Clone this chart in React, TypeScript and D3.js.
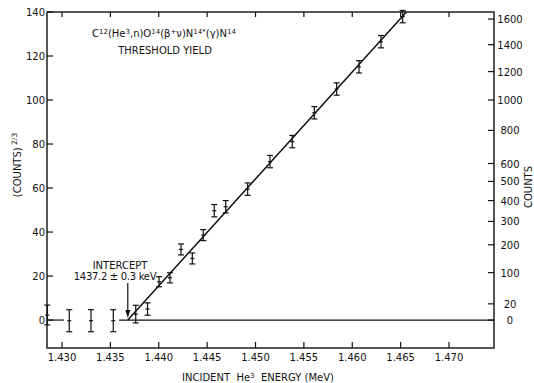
import * as d3 from 'd3';
import { useRef, useEffect } from 'react';

// incident He3 energy (MeV), yield in (counts)^(2/3) with its error
const energy = [1.42848, 1.43075, 1.433, 1.4353, 1.43762, 1.43884, 1.44003, 1.44116, 1.4423, 1.44347, 1.4446, 1.44574, 1.44692, 1.44919, 1.4515, 1.4538, 1.45608, 1.45839, 1.4607, 1.46297, 1.46521];
const yieldVal = [2.3, -0.3, -0.3, -0.3, 2.7, 5.0, 17.4, 19.2, 32.1, 28.0, 38.6, 49.7, 51.5, 59.5, 72.0, 81.1, 94.2, 105.0, 115.1, 126.5, 137.9];
const yieldErr = [4.5, 5, 5, 5, 4, 2.8, 2.3, 2.3, 2.5, 2.5, 2.5, 2.8, 2.8, 2.8, 2.8, 2.8, 2.8, 2.8, 2.8, 2.8, 2.8];

const xTicks = [1.43, 1.435, 1.44, 1.445, 1.45, 1.455, 1.46, 1.465, 1.47];
const yTicks = [0, 20, 40, 60, 80, 100, 120, 140];
const countTicks = [0, 20, 100, 200, 300, 400, 500, 600, 800, 1000, 1200, 1400, 1600];

// straight-line fit, from the intercept to the top of the frame
const fitLine = [[1.4368, 0], [1.4656, 140]];
const baseline = [[1.42845, 1.4302], [1.4359, 1.47465]];

const W = 534, H = 383;
const FONT = "'DejaVu Sans', Verdana, sans-serif";

const App = () => {
  const ref = useRef<SVGSVGElement>(null);

  useEffect(() => {
    if (!ref.current) return;
    const svg = d3.select(ref.current)
      .attr('width', W)
      .attr('height', H)
      .style('font-family', FONT);
    svg.selectAll('*').remove();

    const x = d3.scaleLinear().domain([1.42845, 1.47465]).range([47, 494]);
    const y = d3.scaleLinear().domain([-12.7, 140]).range([348, 12]);
    const ink = '#111';

    // frame
    svg.append('rect')
      .attr('x', 47).attr('y', 12).attr('width', 447).attr('height', 336)
      .attr('fill', 'none').attr('stroke', ink).attr('stroke-width', 1.4);

    // x ticks top and bottom, pointing in
    const xt = svg.append('g').attr('stroke', ink).attr('stroke-width', 1.2);
    xt.selectAll('line.b').data(xTicks).join('line').attr('class', 'b')
      .attr('x1', d => x(d)).attr('x2', d => x(d)).attr('y1', 348).attr('y2', 342);
    xt.selectAll('line.t').data(xTicks).join('line').attr('class', 't')
      .attr('x1', d => x(d)).attr('x2', d => x(d)).attr('y1', 12).attr('y2', 17);
    svg.append('g').attr('font-size', 10).attr('text-anchor', 'middle').attr('fill', ink)
      .selectAll('text').data(xTicks).join('text')
      .attr('x', d => x(d)).attr('y', 361)
      .text(d => d3.format('.3f')(d));

    // left axis
    svg.append('g').attr('stroke', ink).attr('stroke-width', 1.2)
      .selectAll('line').data(yTicks).join('line')
      .attr('x1', 47).attr('x2', 53).attr('y1', d => y(d)).attr('y2', d => y(d));
    svg.append('g').attr('font-size', 10).attr('text-anchor', 'end').attr('fill', ink)
      .selectAll('text').data(yTicks).join('text')
      .attr('x', 45).attr('y', d => y(d) + 4)
      .text(d => d);

    // right axis: counts on a 2/3 power scale
    svg.append('g').attr('stroke', ink).attr('stroke-width', 1.2)
      .selectAll('line').data(countTicks).join('line')
      .attr('x1', 488).attr('x2', 494)
      .attr('y1', d => y(Math.pow(d, 2 / 3))).attr('y2', d => y(Math.pow(d, 2 / 3)));
    svg.append('g').attr('font-size', 10).attr('text-anchor', 'middle').attr('fill', ink)
      .selectAll('text').data(countTicks).join('text')
      .attr('x', 510).attr('y', d => y(Math.pow(d, 2 / 3)) + 4)
      .text(d => d);

    // zero line
    svg.append('g').attr('stroke', ink).attr('stroke-width', 1.2)
      .selectAll('line').data(baseline).join('line')
      .attr('x1', d => x(d[0])).attr('x2', d => x(d[1]))
      .attr('y1', y(0)).attr('y2', y(0));

    // fit
    svg.append('path')
      .attr('d', d3.line<number[]>().x(d => x(d[0])).y(d => y(d[1]))(fitLine))
      .attr('fill', 'none').attr('stroke', ink).attr('stroke-width', 1.5);

    // error bars
    const pts = energy.map((e, i) => ({ e, v: yieldVal[i], s: yieldErr[i] }));
    const eb = svg.append('g').attr('stroke', ink).attr('stroke-width', 1.2);
    eb.selectAll('line.v').data(pts).join('line').attr('class', 'v')
      .attr('x1', d => x(d.e)).attr('x2', d => x(d.e))
      .attr('y1', d => y(d.v - d.s)).attr('y2', d => y(d.v + d.s));
    [1, -1].forEach(k => {
      eb.selectAll(`line.c${k}`).data(pts).join('line').attr('class', `c${k}`)
        .attr('x1', d => x(d.e) - 3).attr('x2', d => x(d.e) + 3)
        .attr('y1', d => y(d.v + k * d.s)).attr('y2', d => y(d.v + k * d.s));
    });
    eb.selectAll('line.m').data(pts).join('line').attr('class', 'm')
      .attr('x1', d => x(d.e) - 2).attr('x2', d => x(d.e) + 2)
      .attr('y1', d => y(d.v)).attr('y2', d => y(d.v));

    // intercept arrow
    const ax = x(fitLine[0][0]);
    svg.append('line').attr('x1', ax).attr('x2', ax).attr('y1', 283).attr('y2', 312)
      .attr('stroke', ink).attr('stroke-width', 1.2);
    svg.append('path')
      .attr('d', `M${ax - 2.5},${310} L${ax + 2.5},${310} L${ax},${318} Z`)
      .attr('fill', ink);
    svg.append('text').attr('x', 120).attr('y', 269).attr('font-size', 10)
      .attr('text-anchor', 'middle').attr('fill', ink).text('INTERCEPT');
    svg.append('text').attr('x', 115).attr('y', 280).attr('font-size', 10)
      .attr('text-anchor', 'middle').attr('fill', ink).attr('letter-spacing', -0.3)
      .text('1437.2 ± 0.3 keV');

    // reaction title
    const title = svg.append('text').attr('x', 92).attr('y', 37).attr('font-size', 10).attr('fill', ink);
    const parts: [string, boolean][] = [
      ['C', false], ['12', true], ['(He', false], ['3', true], [',n)O', false], ['14', true],
      ['(β', false], ['+', true], ['ν)N', false], ['14*', true], ['(γ)N', false], ['14', true],
    ];
    parts.forEach(([t, sup]) => {
      title.append('tspan')
        .attr('baseline-shift', sup ? '40%' : null)
        .attr('font-size', sup ? 7 : null)
        .text(t);
    });
    svg.append('text').attr('x', 165).attr('y', 54).attr('font-size', 10)
      .attr('text-anchor', 'middle').attr('fill', ink).text('THRESHOLD YIELD');

    // axis titles
    const xl = svg.append('text').attr('x', 258).attr('y', 381).attr('font-size', 10)
      .attr('text-anchor', 'middle').attr('fill', ink).attr('xml:space', 'preserve');
    xl.append('tspan').text('INCIDENT  He');
    xl.append('tspan').attr('baseline-shift', '45%').attr('font-size', 7).text('3');
    xl.append('tspan').text('  ENERGY (MeV)');

    const yl = svg.append('text').attr('transform', 'translate(21,165) rotate(-90)')
      .attr('font-size', 10).attr('text-anchor', 'middle').attr('fill', ink);
    yl.append('tspan').text('(COUNTS)');
    yl.append('tspan').attr('baseline-shift', '55%').attr('font-size', 7.5).text(' 2/3');

    svg.append('text').attr('transform', 'translate(532,187) rotate(-90)')
      .attr('font-size', 10).attr('text-anchor', 'middle').attr('fill', ink).text('COUNTS');
  }, []);

  return <svg ref={ref} style={{ position: 'absolute', left: 0, top: 0, background: '#fff' }}></svg>;
};

export default App;
